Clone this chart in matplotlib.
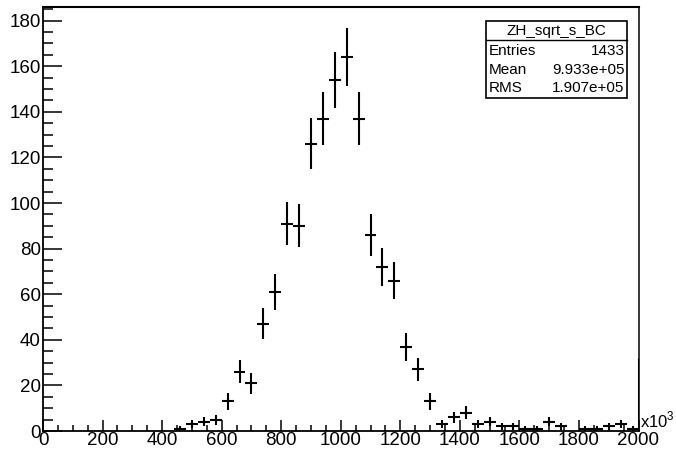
import numpy as np
import matplotlib
matplotlib.use("Agg")
import matplotlib.pyplot as plt
from matplotlib.patches import Rectangle
from matplotlib.lines import Line2D

plt.rcParams['font.family'] = ['Liberation Sans', 'DejaVu Sans']
plt.rcParams['mathtext.fontset'] = 'custom'
plt.rcParams['mathtext.rm'] = 'Liberation Sans'

# ---- data (x in units of 10^3) ----
bin_low = 0
bin_high = 2000
n_bins = 50
counts = [0, 0, 0, 0, 0, 0, 0, 0, 0, 0, 0,
          1, 3, 4, 5, 13, 26, 21, 47, 61, 91, 90, 126, 137, 154, 164,
          137, 86, 72, 66, 37, 27, 13, 3, 6, 8, 3, 4, 2, 2, 1, 1, 4, 2,
          0, 1, 1, 2, 3, 1]
edge_spike = 32
x_ticks = [0, 200, 400, 600, 800, 1000, 1200, 1400, 1600, 1800, 2000]
y_ticks = [0, 20, 40, 60, 80, 100, 120, 140, 160, 180]
stats_title = "ZH_sqrt_s_BC"
stats_rows = [("Entries", "1433"), ("Mean", "9.933e+05"), ("RMS", "1.907e+05")]

edges = np.linspace(bin_low, bin_high, n_bins + 1)
centers = 0.5 * (edges[:-1] + edges[1:])
half_w = 0.5 * (edges[1] - edges[0])
counts = np.array(counts, dtype=float)

fig = plt.figure(figsize=(6.76, 4.54), dpi=100)
ax = fig.add_axes([43 / 676, 23 / 454, (638.5 - 43) / 676, (431 - 7) / 454])

mask = counts > 0
ax.errorbar(centers[mask], counts[mask], xerr=half_w, yerr=np.sqrt(counts[mask]),
            fmt='none', ecolor='black', elinewidth=1.5, capsize=0)
ax.plot([bin_high, bin_high], [0, edge_spike], color='black', lw=2.2,
        solid_capstyle='butt')

ax.set_xlim(bin_low, bin_high)
ax.set_ylim(0, 186)
ax.set_xticks(x_ticks)
ax.set_yticks(y_ticks)
ax.set_xticks(np.arange(0, 2001, 50), minor=True)
ax.set_yticks(np.arange(0, 186, 5), minor=True)
ax.tick_params(axis='x', which='major', direction='in', length=8, width=1.1,
               labelsize=13.5, pad=1.0, top=False)
ax.tick_params(axis='x', which='minor', direction='in', length=4.3, width=1.1, top=False)
ax.tick_params(axis='y', which='major', direction='in', length=13.7, width=1.1,
               labelsize=13.5, pad=1.5, right=False)
ax.tick_params(axis='y', which='minor', direction='in', length=7.2, width=1.1, right=False)
for s in ['left', 'bottom']:
    ax.spines[s].set_linewidth(1.3)
ax.spines['top'].set_linewidth(1.5)
ax.spines['right'].set_linewidth(1.1)

fig.text(640 / 676, (454 - 427) / 454, r'x10$^{\mathrm{3}}$', fontsize=12,
         ha='left', va='baseline')

# stats box
bx0, bx1 = 486 / 676, 627 / 676
by0, by1 = 1 - 98.3 / 454, 1 - 20.7 / 454
fig.patches.append(Rectangle((bx0, by0), bx1 - bx0, by1 - by0, transform=fig.transFigure,
                             facecolor='white', edgecolor='black', lw=1.2, zorder=5))
ydiv = 1 - 40 / 454
fig.lines.append(Line2D([bx0, bx1], [ydiv, ydiv], transform=fig.transFigure,
                        color='black', lw=1.0, zorder=6))
fig.text((bx0 + bx1) / 2, 1 - 30.5 / 454, stats_title, ha='center', va='center',
         fontsize=11, zorder=7)
row_y = [50.7, 70, 88.3]
for (lab, val), ry in zip(stats_rows, row_y):
    fig.text(488.5 / 676, 1 - ry / 454, lab, ha='left', va='center', fontsize=11, zorder=7)
    fig.text(624.5 / 676, 1 - ry / 454, val, ha='right', va='center', fontsize=11, zorder=7)

fig.savefig('out.png', dpi=100)
